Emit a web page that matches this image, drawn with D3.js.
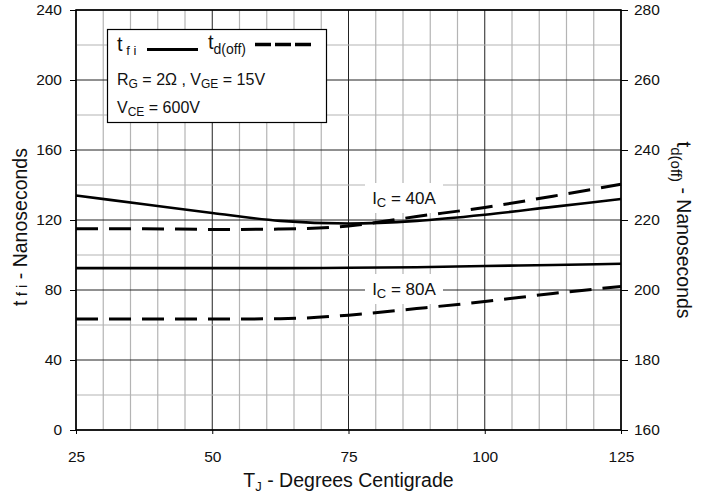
<!DOCTYPE html>
<html>
<head>
<meta charset="utf-8">
<script src="https://cdn.jsdelivr.net/npm/d3@7"></script>
<style>
  html, body { margin: 0; padding: 0; background: #fff; }
  svg { display: block; font-family: "Liberation Sans", Arial, Helvetica, sans-serif; }
</style>
</head>
<body>
<svg id="chart" width="712" height="493"></svg>
<script>
// Junction temperature (°C) sample points
const tempC = [25, 37.5, 50, 62.5, 75, 87.5, 100, 112.5, 125];

// Fall time t_fi (ns, left axis)
const tfi40 = [134, 129, 124, 119.5, 118, 119.5, 123, 127.5, 132];
const tfi80 = [92.5, 92.5, 92.5, 92.5, 92.7, 93, 93.7, 94.3, 95];

// Turn-off delay t_d(off) (ns, right axis)
const tdoff40 = [217.5, 217.5, 217.3, 217.4, 218.3, 221, 223.6, 226.8, 230.2];
const tdoff80 = [191.7, 191.7, 191.7, 191.8, 192.8, 194.7, 196.7, 199, 201];

const leftTicks = [0, 40, 80, 120, 160, 200, 240];
const rightTicks = [160, 180, 200, 220, 240, 260, 280];
const xTicks = [25, 50, 75, 100, 125];

const svg = d3.select("#chart");
const L = 76, R = 621, T = 10, B = 430;

const x = d3.scaleLinear().domain([25, 125]).range([L, R]);
const yL = d3.scaleLinear().domain([0, 240]).range([B, T]);
const yR = d3.scaleLinear().domain([160, 280]).range([B, T]);

// grid: minor every 5 °C / 20 ns, major every 25 °C / 40 ns
const g = svg.append("g");
d3.range(25, 126, 5).forEach(v => {
  const major = (v - 25) % 25 === 0;
  g.append("line").attr("x1", x(v)).attr("x2", x(v)).attr("y1", T).attr("y2", B)
    .attr("stroke", major ? "#222" : "#b4b4b4").attr("stroke-width", major ? 1 : 1.2);
});
d3.range(0, 241, 20).forEach(v => {
  const major = v % 40 === 0;
  g.append("line").attr("x1", L).attr("x2", R).attr("y1", yL(v)).attr("y2", yL(v))
    .attr("stroke", major ? "#222" : "#b4b4b4").attr("stroke-width", major ? 1 : 1.2);
});

// axes
const axL = svg.append("g").attr("transform", `translate(${L},0)`)
  .call(d3.axisLeft(yL).tickValues(leftTicks).tickSize(6).tickPadding(8));
const axR = svg.append("g").attr("transform", `translate(${R},0)`)
  .call(d3.axisRight(yR).tickValues(rightTicks).tickSize(7).tickPadding(6));
const axB = svg.append("g").attr("transform", `translate(0,${B})`)
  .call(d3.axisBottom(x).tickValues(xTicks).tickSize(4).tickPadding(17));
[axL, axR, axB].forEach(a => {
  a.select(".domain").remove();
  a.selectAll("line").attr("stroke", "#000").attr("stroke-width", 1);
  a.selectAll("text").attr("font-size", 15.5).attr("fill", "#111")
    .attr("font-family", "Liberation Sans, Arial, sans-serif");
});

// frame
svg.append("rect").attr("x", L).attr("y", T).attr("width", R - L).attr("height", B - T)
  .attr("fill", "none").attr("stroke", "#000").attr("stroke-width", 1.6);

// curve labels with white backing
function icLabel(cx, cy, amps) {
  svg.append("rect").attr("x", cx - 39).attr("y", cy - 15).attr("width", 78).attr("height", 30)
    .attr("fill", "#fff");
  const t = svg.append("text").attr("x", cx).attr("y", cy + 6).attr("text-anchor", "middle")
    .attr("font-size", 17).attr("fill", "#111");
  t.append("tspan").text("I");
  t.append("tspan").attr("font-size", 13).attr("dy", 3).text("C");
  t.append("tspan").attr("dy", -3).text(" = " + amps + "A");
}
icLabel(404, 198, 40);
icLabel(404, 289, 80);

// curves
const lineL = d3.line().x((d, i) => x(tempC[i])).y(d => yL(d)).curve(d3.curveMonotoneX);
const lineR = d3.line().x((d, i) => x(tempC[i])).y(d => yR(d)).curve(d3.curveMonotoneX);

[tfi40, tfi80].forEach(s => {
  svg.append("path").datum(s).attr("d", lineL).attr("fill", "none")
    .attr("stroke", "#000").attr("stroke-width", 2.6);
});
[tdoff40, tdoff80].forEach(s => {
  svg.append("path").datum(s).attr("d", lineR).attr("fill", "none")
    .attr("stroke", "#000").attr("stroke-width", 3).attr("stroke-dasharray", "22,11");
});

// legend box
svg.append("rect").attr("x", 107.5).attr("y", 29.5).attr("width", 219).attr("height", 93)
  .attr("fill", "#fff").attr("stroke", "#000").attr("stroke-width", 1.2);
const lg = svg.append("g").attr("font-size", 16).attr("fill", "#111");
let t1 = lg.append("text").attr("x", 117).attr("y", 51);
t1.append("tspan").attr("font-size", 20).text("t");
t1.append("tspan").attr("font-size", 13).attr("dy", 4).text(" f i");
lg.append("line").attr("x1", 147).attr("x2", 198).attr("y1", 49.5).attr("y2", 49.5)
  .attr("stroke", "#000").attr("stroke-width", 3);
let t2 = lg.append("text").attr("x", 208).attr("y", 49);
t2.append("tspan").attr("font-size", 20).text("t");
t2.append("tspan").attr("font-size", 14).attr("dy", 5).text("d(off)");
lg.append("line").attr("x1", 255).attr("x2", 311).attr("y1", 44.5).attr("y2", 44.5)
  .attr("stroke", "#000").attr("stroke-width", 3.4).attr("stroke-dasharray", "16,4");
let t3 = lg.append("text").attr("x", 117).attr("y", 85);
t3.append("tspan").text("R");
t3.append("tspan").attr("font-size", 12).attr("dy", 3).text("G");
t3.append("tspan").attr("dy", -3).text(" = 2Ω ,  V");
t3.append("tspan").attr("font-size", 12).attr("dy", 3).text("GE");
t3.append("tspan").attr("dy", -3).text(" = 15V");
let t4 = lg.append("text").attr("x", 117).attr("y", 113);
t4.append("tspan").text("V");
t4.append("tspan").attr("font-size", 12).attr("dy", 3).text("CE");
t4.append("tspan").attr("dy", -3).text(" = 600V");

// axis titles
const xt = svg.append("text").attr("x", (L + R) / 2).attr("y", 486.5).attr("text-anchor", "middle")
  .attr("font-size", 19.5).attr("fill", "#111");
xt.append("tspan").text("T");
xt.append("tspan").attr("font-size", 13).attr("dy", 4).text("J");
xt.append("tspan").attr("dy", -4).text(" - Degrees Centigrade");

const yt = svg.append("text").attr("transform", "translate(27,227) rotate(-90)")
  .attr("text-anchor", "middle").attr("font-size", 19.5).attr("fill", "#111");
yt.append("tspan").text("t");
yt.append("tspan").attr("font-size", 15).text(" f i");
yt.append("tspan").text(" - Nanoseconds");

const yrt = svg.append("text").attr("transform", "translate(677,230) rotate(90)")
  .attr("text-anchor", "middle").attr("font-size", 19.5).attr("fill", "#111");
yrt.append("tspan").attr("font-size", 21).text("t");
yrt.append("tspan").attr("font-size", 15).attr("dy", 6).text("d(off)");
yrt.append("tspan").attr("dy", -6).text(" - Nanoseconds");
</script>
</body>
</html>
